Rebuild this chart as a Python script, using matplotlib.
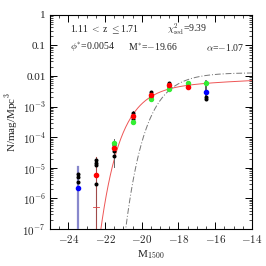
import numpy as np
import matplotlib
matplotlib.use("Agg")
import matplotlib.pyplot as plt
from matplotlib.ticker import FixedLocator, NullFormatter, LogLocator

plt.rcParams['font.family'] = ['Liberation Serif', 'DejaVu Serif']
plt.rcParams['mathtext.fontset'] = 'cm'

# binned luminosity function points (N/mag/Mpc^3)
mag_red = [-22.5, -21.5, -20.5, -19.5, -18.5, -17.5]
phi_red = [5.9e-6, 4.5e-5, 5.0e-4, 2.45e-3, 5.1e-3, 4.5e-3]

mag_green = [-21.5, -20.5, -19.5, -18.5, -17.5, -16.5]
phi_green = [6.6e-5, 3.2e-4, 1.8e-3, 3.8e-3, 6.0e-3, 6.0e-3]

mag_blue = [-23.5, -16.5]
phi_blue = [2.2e-6, 3.0e-3]

mag_black = [-23.5, -23.5, -23.5, -22.5, -22.5, -22.5, -22.5, -21.5, -21.5, -21.5,
             -20.5, -20.5, -19.5, -19.5, -18.5, -18.5, -17.5, -16.5, -16.5]
phi_black = [6.3e-6, 5.0e-6, 3.5e-6, 1.8e-5, 1.45e-5, 1.2e-5, 3.0e-6, 5.6e-5, 3.5e-5, 2.5e-5,
             6.3e-4, 4.0e-4, 3.0e-3, 2.0e-3, 6.0e-3, 4.5e-3, 4.8e-3, 2.1e-3, 1.8e-3]

# error bar extents
err_mag = [-23.5, -22.5, -21.5, -20.5, -16.5]
err_lo = [1e-8, 1e-8, 1.07e-5, 3.0e-4, 1.7e-3]
err_hi = [1.07e-5, 2.3e-5, 9.0e-5, 7.0e-4, 7.0e-3]
err_col = ['#8888cc', '#a04a4a', '#666666', '#666666', '#333333']
err_lw = [1.6, 0.8, 0.7, 0.7, 1.1]

# Schechter fit (red) and reference LF (grey dash-dot)
fit_phistar, fit_mstar, fit_alpha = 0.0054, -19.66, -1.07
ref_phistar, ref_mstar, ref_alpha = 0.014, -18.2, -1.0


def schechter(M, phistar, mstar, alpha):
    x = 10 ** (-0.4 * (M - mstar))
    return 0.4 * np.log(10) * phistar * x ** (alpha + 1) * np.exp(-x)


fig = plt.figure(figsize=(2.66, 2.66), dpi=100)
ax = fig.add_axes([0.188, 0.139, 0.759, 0.805])

M = np.linspace(-25, -14, 500)
ax.plot(M, schechter(M, fit_phistar, fit_mstar, fit_alpha), color='#ee5555', lw=0.7, zorder=2)
ax.plot(M, schechter(M, ref_phistar, ref_mstar, ref_alpha), color='#777777', lw=0.7,
        dashes=(6, 2, 1, 2), zorder=2)

for m, lo, hi, c, lw in zip(err_mag, err_lo, err_hi, err_col, err_lw):
    ax.plot([m, m], [lo, hi], color=c, lw=lw, zorder=3)
ax.plot([-22.65, -22.35], [5.4e-7, 5.4e-7], color='#dd4444', lw=0.6, zorder=3)

ax.plot(mag_black, phi_black, 'o', color='black', ms=1.9, zorder=4)
ax.plot(mag_green, phi_green, 'o', color='#33ee33', ms=2.9, zorder=5)
ax.plot(mag_red, phi_red, 'o', color='#ff0000', ms=3.0, zorder=6)
ax.plot(mag_blue, phi_blue, 'o', color='#0000ff', ms=3.0, zorder=6)

ax.set_yscale('log')
ax.set_xlim(-25, -14)
ax.set_ylim(1e-7, 1)

ax.xaxis.set_major_locator(FixedLocator([-24, -22, -20, -18, -16, -14]))
ax.xaxis.set_minor_locator(FixedLocator(np.arange(-25, -13.9, 0.5)))
ax.set_xticklabels(['$-24$', '$-22$', '$-20$', '$-18$', '$-16$', '$-14$'])
ax.yaxis.set_major_locator(FixedLocator([1e-7, 1e-6, 1e-5, 1e-4, 1e-3, 1e-2, 1e-1, 1]))
ax.yaxis.set_minor_locator(LogLocator(base=10, subs=np.arange(2, 10), numticks=20))
ax.yaxis.set_minor_formatter(NullFormatter())
ax.set_yticklabels(['$10^{-7}$', '$10^{-6}$', '$10^{-5}$', '$10^{-4}$', '$10^{-3}$',
                    '0.01', '0.1', '1'])

ax.tick_params(which='both', direction='in', top=True, right=True, labelsize=8, pad=3,
               labelcolor='#222222')
ax.tick_params(which='major', length=5, width=0.7)
ax.tick_params(which='minor', length=2.5, width=0.5)
for s in ax.spines.values():
    s.set_linewidth(0.8)

ax.set_xlabel('M$_{1500}$', fontsize=8, labelpad=2, color='#222222')
ax.set_ylabel('N/mag/Mpc$^3$', fontsize=8, labelpad=2, color='#222222')

tkw = dict(transform=ax.transAxes, fontsize=7, va='center', color='#222222')
ax.text(0.10, 0.93, r'1.11 $<$ z $\leq$1.71', **tkw)
ax.text(0.58, 0.93, r'$\chi^2_{\rm red}$=9.39', **tkw)
ax.text(0.10, 0.846, r'$\phi^{*}$=0.0054', **tkw)
ax.text(0.385, 0.846, r'M$^{*}$=$-$19.66', **tkw)
ax.text(0.775, 0.846, r'$\alpha$=$-$1.07', **tkw)

fig.savefig('out.png', dpi=100)
